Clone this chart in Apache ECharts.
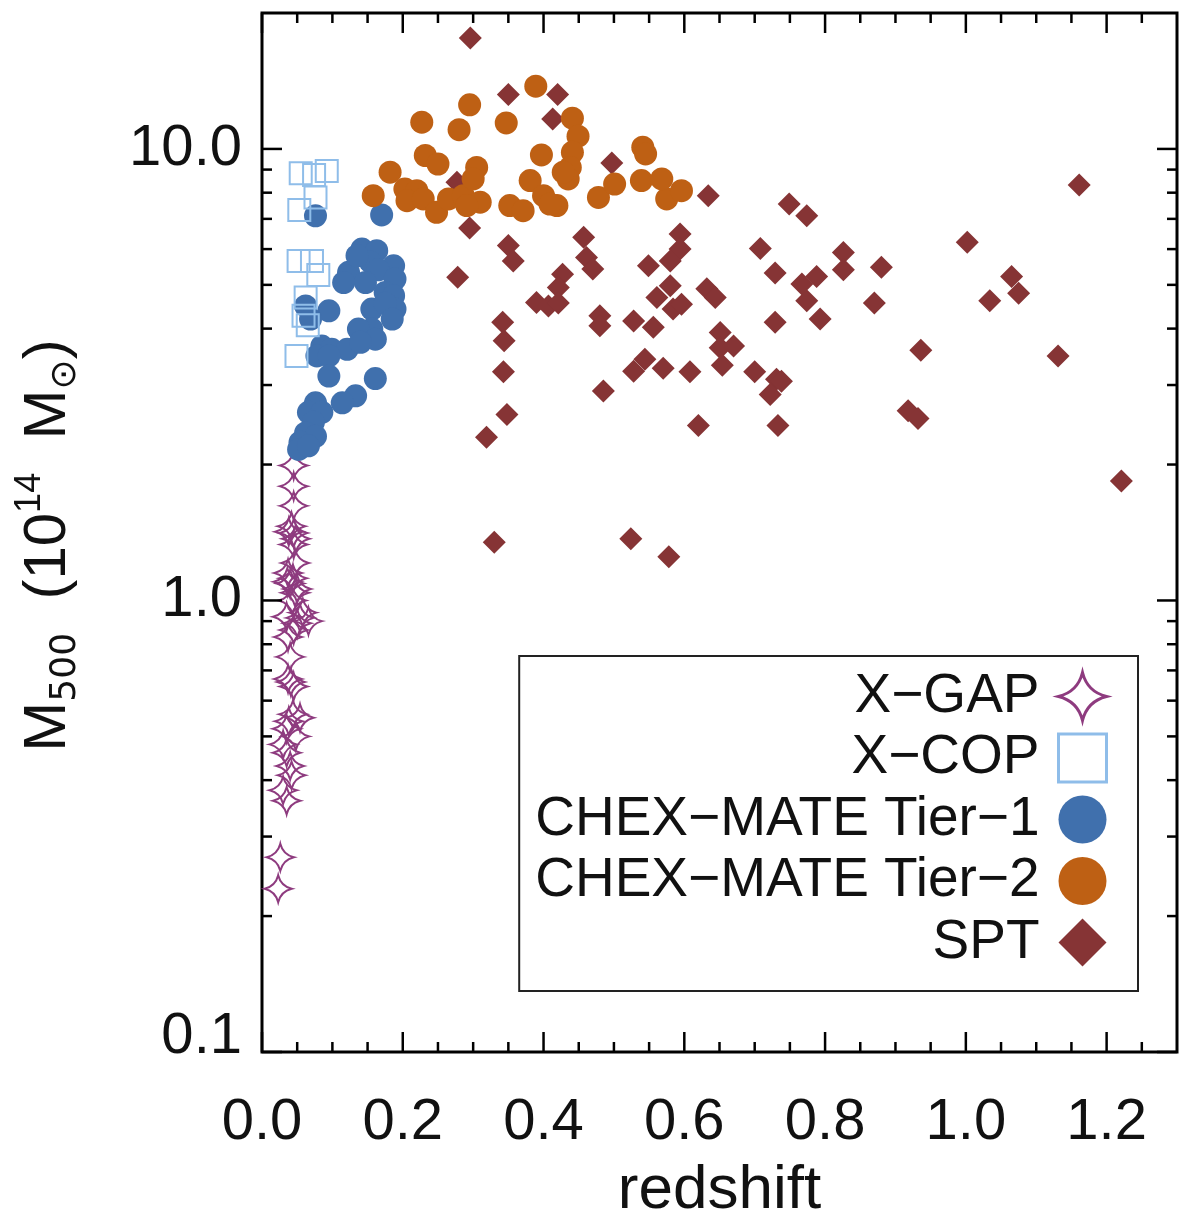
<!DOCTYPE html>
<html>
<head>
<meta charset="utf-8">
<script src="https://cdn.jsdelivr.net/npm/echarts@6/dist/echarts.min.js"></script>
<style>
html,body{margin:0;padding:0;background:#fff;}
#chart{width:1200px;height:1226px;}
</style>
</head>
<body>
<div id="chart"></div>
<script>
// ---- data: [redshift, M500 (1e14 Msun)] ----
const xgap = [[0.045,1.99],[0.045,1.79],[0.045,1.62],[0.042,1.46],[0.038,1.42],[0.045,1.41],[0.048,1.37],[0.045,1.33],[0.047,1.21],[0.037,1.15],[0.044,1.12],[0.036,1.10],[0.040,1.09],[0.050,1.06],[0.047,1.04],[0.043,1.00],[0.058,0.94],[0.035,0.92],[0.054,0.915],[0.066,0.90],[0.050,0.89],[0.045,0.86],[0.037,0.83],[0.040,0.75],[0.037,0.67],[0.041,0.66],[0.045,0.645],[0.044,0.56],[0.054,0.55],[0.038,0.54],[0.035,0.52],[0.048,0.50],[0.030,0.48],[0.035,0.46],[0.040,0.43],[0.042,0.41],[0.030,0.38],[0.035,0.36],[0.026,0.27],[0.023,0.23]];
const xcop = [[0.055,8.83],[0.074,8.76],[0.092,8.94],[0.076,7.81],[0.053,7.32],[0.052,5.65],[0.071,5.65],[0.080,5.26],[0.062,4.69],[0.059,4.27],[0.065,4.07],[0.049,3.48]];
const tier1 = [[0.076,7.11],[0.170,7.14],[0.142,6.00],[0.163,5.95],[0.187,5.51],[0.123,5.33],[0.154,5.62],[0.135,5.80],[0.165,5.40],[0.147,5.06],[0.189,5.15],[0.116,5.06],[0.175,4.81],[0.187,4.73],[0.189,4.42],[0.156,4.42],[0.175,4.55],[0.185,4.20],[0.062,4.49],[0.095,4.38],[0.069,4.20],[0.156,3.99],[0.137,3.99],[0.161,3.79],[0.085,3.66],[0.099,3.60],[0.121,3.60],[0.140,3.73],[0.078,3.48],[0.095,3.48],[0.095,3.14],[0.161,3.10],[0.133,2.84],[0.114,2.74],[0.076,2.74],[0.066,2.61],[0.085,2.61],[0.073,2.48],[0.062,2.35],[0.076,2.31],[0.054,2.24],[0.052,2.16],[0.066,2.20]];
const tier2 = [[0.389,13.77],[0.295,12.52],[0.227,11.46],[0.280,11.03],[0.347,11.42],[0.441,11.70],[0.449,10.67],[0.441,9.83],[0.438,9.10],[0.435,8.58],[0.397,9.70],[0.541,10.09],[0.545,9.75],[0.232,9.67],[0.250,9.26],[0.182,8.88],[0.158,7.88],[0.203,8.15],[0.220,8.08],[0.206,7.68],[0.229,7.75],[0.248,7.24],[0.265,7.75],[0.286,7.88],[0.305,9.10],[0.300,8.58],[0.310,7.62],[0.291,7.49],[0.352,7.49],[0.371,7.30],[0.381,8.51],[0.400,7.88],[0.419,7.49],[0.428,8.88],[0.409,7.55],[0.478,7.81],[0.501,8.36],[0.539,8.51],[0.575,7.75],[0.596,8.08],[0.568,8.58]];
const spt = [[0.296,17.6],[0.350,13.2],[0.420,13.2],[0.413,11.65],[0.497,9.31],[0.277,8.44],[0.634,7.88],[0.749,7.55],[0.774,7.11],[1.161,8.32],[0.295,6.68],[0.350,6.11],[0.357,5.65],[0.457,6.37],[0.461,5.75],[0.470,5.42],[0.594,6.48],[0.594,6.00],[0.580,5.65],[0.549,5.51],[0.708,6.02],[0.826,5.90],[0.826,5.40],[0.880,5.47],[0.729,5.31],[0.788,5.22],[0.767,5.02],[0.774,4.61],[0.793,4.20],[0.870,4.56],[0.278,5.20],[0.427,5.28],[0.421,4.93],[0.390,4.57],[0.407,4.49],[0.421,4.56],[0.580,4.98],[0.561,4.69],[0.584,4.42],[0.596,4.53],[0.632,4.90],[0.644,4.69],[0.480,4.27],[0.480,4.06],[0.528,4.16],[0.556,4.03],[0.342,4.13],[0.344,3.76],[0.729,4.13],[0.651,3.92],[0.651,3.63],[0.670,3.66],[0.654,3.32],[0.700,3.21],[0.731,3.09],[0.738,3.06],[0.722,2.86],[0.733,2.44],[0.620,2.44],[0.544,3.42],[0.528,3.22],[0.570,3.27],[0.608,3.21],[0.343,3.21],[0.485,2.91],[0.348,2.58],[0.319,2.30],[1.002,6.21],[1.065,5.22],[1.075,4.79],[1.034,4.61],[0.936,3.58],[1.131,3.48],[0.918,2.63],[0.932,2.53],[1.221,1.84],[0.330,1.345],[0.524,1.37],[0.578,1.25]];

// ---- tick positions ----
const xMajorTicks = [0.0,0.2,0.4,0.6,0.8,1.0,1.2];
const xMinorTicks = [0.05,0.1,0.15,0.25,0.3,0.35,0.45,0.5,0.55,0.65,0.7,0.75,0.85,0.9,0.95,1.05,1.1,1.15,1.25];
const yMajorTicks = [0.1,1,10];
const yMinorTicks = [0.2,0.3,0.4,0.5,0.6,0.7,0.8,0.9,2,3,4,5,6,7,8,9];

const seriesNames = ['X\u2212GAP','X\u2212COP','CHEX\u2212MATE Tier\u22121','CHEX\u2212MATE Tier\u22122','SPT'];
const colors = {xgap:'#8e3b7f', xcop:'#8fbde9', t1:'#4070ad', t2:'#be6014', spt:'#863435'};
const FONT = "'Liberation Sans', Arial, Helvetica, sans-serif";
const starPath = 'path://M0,-10 Q2,-2 10,0 Q2,2 0,10 Q-2,2 -10,0 Q-2,-2 0,-10 Z';

const chart = echarts.init(document.getElementById('chart'), null, {renderer:'canvas'});

function xTicks(len){
  return function(params, api){
    const cs = params.coordSys;
    const x = api.coord([api.value(0), 1])[0];
    const st = {stroke:'#000', lineWidth:2.5};
    return {type:'group', children:[
      {type:'line', shape:{x1:x,y1:cs.y+cs.height,x2:x,y2:cs.y+cs.height-len}, style:st},
      {type:'line', shape:{x1:x,y1:cs.y,x2:x,y2:cs.y+len}, style:st}
    ]};
  };
}
function yTicks(len){
  return function(params, api){
    const cs = params.coordSys;
    const y = api.coord([0.5, api.value(1)])[1];
    const st = {stroke:'#000', lineWidth:2.5};
    return {type:'group', children:[
      {type:'line', shape:{x1:cs.x,y1:y,x2:cs.x+len,y2:y}, style:st},
      {type:'line', shape:{x1:cs.x+cs.width,y1:y,x2:cs.x+cs.width-len,y2:y}, style:st}
    ]};
  };
}

const option = {
  animation:false,
  backgroundColor:'#fff',
  grid:{left:262, right:23, top:13, bottom:174, show:true, borderColor:'#000', borderWidth:3, backgroundColor:'transparent', containLabel:false, outerBoundsMode:'none'},
  xAxis:{
    type:'value', min:0, max:1.3, interval:0.2,
    name:'redshift', nameLocation:'middle', nameGap:108,
    nameTextStyle:{fontFamily:FONT, fontSize:62, color:'#111'},
    axisLine:{show:false},
    axisTick:{show:false},
    splitLine:{show:false},
    axisLabel:{fontFamily:FONT, fontSize:58, color:'#111', margin:42, showMaxLabel:false, formatter:v=>v.toFixed(1)}
  },
  yAxis:{
    type:'log', logBase:10, min:0.1, max:20,
    name:'{n|M}{s|500}{n|  (10}{p|14}{n|  M}{s|\u2299}{n|)}',
    nameLocation:'middle', nameRotate:90, nameGap:178,
    nameTextStyle:{color:'#111', padding:[0,26,0,0], rich:{
      n:{fontFamily:FONT, fontSize:60, lineHeight:72, color:'#111'},
      s:{fontFamily:"'DejaVu Sans', "+FONT, fontSize:36, lineHeight:36, verticalAlign:'bottom', color:'#111'},
      p:{fontFamily:FONT, fontSize:36, lineHeight:34, verticalAlign:'top', color:'#111'}
    }},
    axisLine:{show:false},
    axisTick:{show:false},
    splitLine:{show:false},
    minorTick:{show:false},
    axisLabel:{fontFamily:FONT, fontSize:58, color:'#111', margin:20, showMaxLabel:false,
      formatter:v=>(v < 0.5 ? '{low|' + v.toFixed(1) + '}' : v.toFixed(1)),
      rich:{low:{fontFamily:FONT, fontSize:58, color:'#111', padding:[0,0,30,0]}}}
  },
  legend:{
    orient:'vertical', align:'right', right:62, top:656,
    itemWidth:48, itemHeight:48, itemGap:6.5,
    padding:[13,30,21,16],
    borderColor:'#222', borderWidth:2, backgroundColor:'#fff',
    textStyle:{fontFamily:FONT, fontSize:55, color:'#111', padding:[0,14,0,0]},
    data:[
      {name:seriesNames[0], icon:starPath, itemStyle:{color:'rgba(0,0,0,0)', borderColor:colors.xgap, borderWidth:3}},
      {name:seriesNames[1], icon:'rect', itemStyle:{color:'rgba(0,0,0,0)', borderColor:colors.xcop, borderWidth:3}},
      {name:seriesNames[2], icon:'circle'},
      {name:seriesNames[3], icon:'circle'},
      {name:seriesNames[4], icon:'diamond'}
    ]
  },
  series:[
    {name:seriesNames[4], type:'scatter', data:spt, symbol:'diamond', symbolSize:23, z:2,
      itemStyle:{color:colors.spt, opacity:1}},
    {name:seriesNames[0], type:'scatter', data:xgap, symbol:starPath, symbolSize:27, z:3,
      itemStyle:{color:'rgba(0,0,0,0)', borderColor:colors.xgap, borderWidth:2, opacity:1}},
    {name:seriesNames[2], type:'scatter', data:tier1, symbol:'circle', symbolSize:23, z:4,
      itemStyle:{color:colors.t1, opacity:1}},
    {name:seriesNames[3], type:'scatter', data:tier2, symbol:'circle', symbolSize:23, z:5,
      itemStyle:{color:colors.t2, opacity:1}},
    {name:seriesNames[1], type:'scatter', data:xcop, symbol:'rect', symbolSize:22, z:6,
      itemStyle:{color:'rgba(0,0,0,0)', borderColor:colors.xcop, borderWidth:2, opacity:1}},
    {type:'custom', name:'xmajor', data:xMajorTicks.map(v=>[v,1]), renderItem:xTicks(20), silent:true, z:10},
    {type:'custom', name:'xminor', data:xMinorTicks.map(v=>[v,1]), renderItem:xTicks(10), silent:true, z:10},
    {type:'custom', name:'ymajor', data:yMajorTicks.map(v=>[0.5,v]), renderItem:yTicks(20), silent:true, z:10},
    {type:'custom', name:'yminor', data:yMinorTicks.map(v=>[0.5,v]), renderItem:yTicks(10), silent:true, z:10}
  ]
};
chart.setOption(option);
</script>
</body>
</html>
